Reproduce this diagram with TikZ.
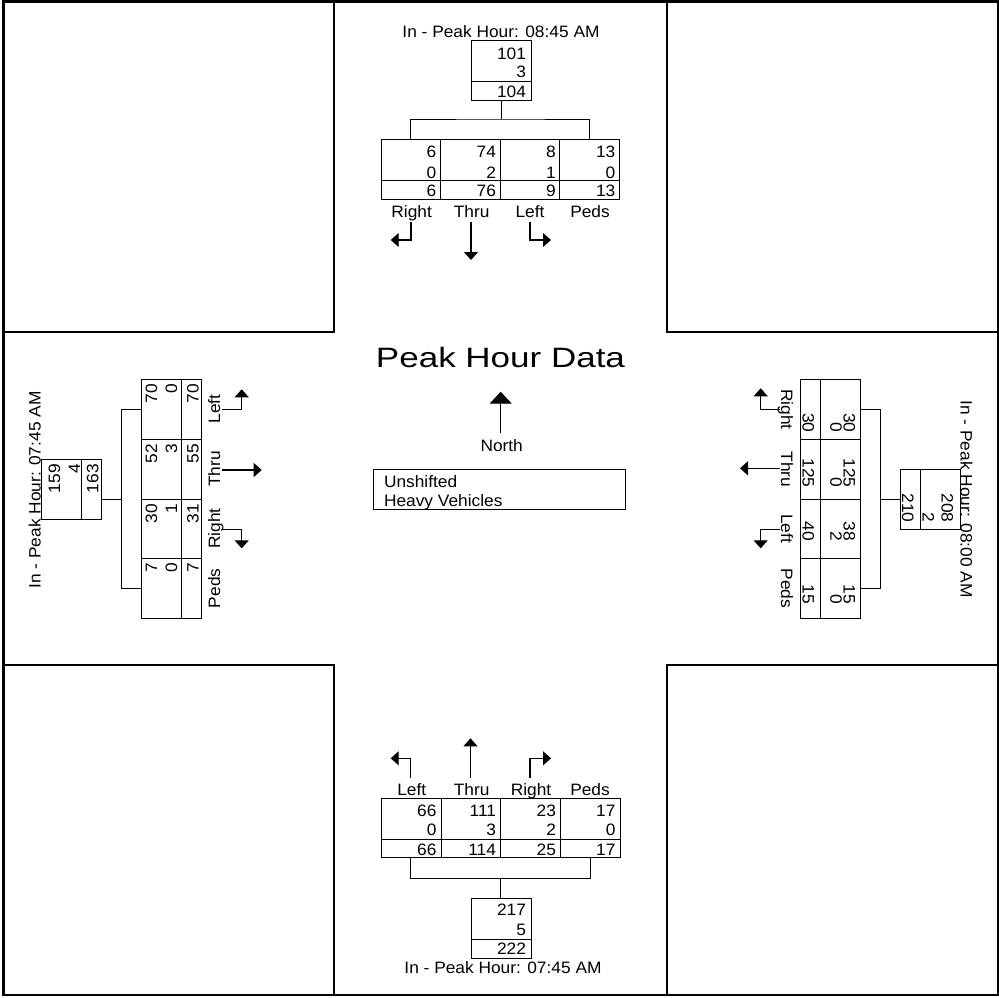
\documentclass[tikz,border=0pt]{standalone}
\usepackage{fontspec}
\setmainfont{Liberation Sans}[FakeStretch=1.05]
\newfontfamily\titlefont{Liberation Sans}[FakeStretch=1.25]
\usetikzlibrary{arrows.meta}
\begin{document}
\begin{tikzpicture}[x=1pt,y=-1pt,
  every node/.style={inner sep=0pt, outer sep=0pt, font=\fontsize{16.5}{19}\selectfont},
  frame/.style={line width=1.8pt},
  grid/.style={line width=1pt},
  cell/.style={draw, line width=1pt, rectangle},
  num/.style={anchor=base east},
  numL/.style={anchor=base east, rotate=90},
  numR/.style={anchor=base east, rotate=-90},
  lab/.style={anchor=base},
  labL/.style={anchor=base, rotate=90},
  labR/.style={anchor=base, rotate=-90},
  arr/.style={line width=1.1pt, -{Triangle[length=8pt,width=14pt]}},
]
\useasboundingbox (0,0) rectangle (999,997);
% frames
\draw[line width=2.6pt] (3.3,1.7) rectangle (998,995);
\draw[frame] (3.3,332.3) -| (334.3,1.7);
\draw[frame] (667,1.7) |- (998,332.3);
\draw[frame] (3.3,665) -| (334.3,995);
\draw[frame] (998,665) -| (667,995);

% ================= TOP =================
\node[lab] (ttitle) at (501,37) {In - Peak Hour: 08:45 AM};
\node[cell, minimum width=60pt, minimum height=59.3pt] (tbox) at (501,70.35) {};
\draw[grid] (471,81) -- (531,81);
\node[num] (tb1) at (526,59) {101};
\node[num] (tb2) at (526,77.7) {3};
\node[num] (tb3) at (526,97) {104};
\node[cell, minimum width=238.3pt, minimum height=60pt] (ttab) at (500.15,169.3) {};
\draw[grid] (381,180.7) -- (619.3,180.7);
\draw[grid] (440.3,139.3) -- (440.3,199.3) (500,139.3) -- (500,199.3) (559.7,139.3) -- (559.7,199.3);
\coordinate (tj) at (501,119);
\coordinate (tc1) at (410.7,139.3);
\coordinate (tc4) at (589,139.3);
\draw[grid] (tbox.south) -- (tj);
\draw[grid] (tc1) |- (tj) -| (tc4);
\foreach \x/\a/\b/\c [count=\i] in {436.3/6/0/6, 496/74/2/76, 555.7/8/1/9, 615.3/13/0/13}{
  \node[num] (tn\i a) at (\x,157.7) {\a};
  \node[num] (tn\i b) at (\x,178.3) {\b};
  \node[num] (tn\i c) at (\x,196.7) {\c};
}
\node[lab] (tlR) at (411.7,217) {Right};
\node[lab] (tlT) at (471.7,217) {Thru};
\node[lab] (tlL) at (530,217) {Left};
\node[lab] (tlP) at (590,217) {Peds};
\draw[arr] (411,221.7) |- (390.7,240);
\draw[arr] (471,221.7) -- (471,260);
\draw[arr] (530,221.7) |- (551,240);

% ================= BOTTOM =================
\draw[arr] (410.7,778.3) |- (390.7,758.3);
\draw[arr] (470.5,778.3) -- (470.5,738.3);
\draw[arr] (530,778.3) |- (551,758.3);
\node[lab] (blL) at (411.7,795.7) {Left};
\node[lab] (blT) at (471.7,795.7) {Thru};
\node[lab] (blR) at (531,795.7) {Right};
\node[lab] (blP) at (590,795.7) {Peds};
\node[cell, minimum width=239pt, minimum height=59.4pt] (btab) at (500.5,828) {};
\draw[grid] (381,839) -- (620,839);
\draw[grid] (441,798.3) -- (441,857.7) (500.7,798.3) -- (500.7,857.7) (560.7,798.3) -- (560.7,857.7);
\foreach \x/\a/\b/\c [count=\i] in {436.5/66/0/66, 496/111/3/114, 556/23/2/25, 615.5/17/0/17}{
  \node[num] (bn\i a) at (\x,816) {\a};
  \node[num] (bn\i b) at (\x,835) {\b};
  \node[num] (bn\i c) at (\x,855) {\c};
}
\node[cell, minimum width=60.7pt, minimum height=60pt] (bbox) at (501.35,928.3) {};
\draw[grid] (471,939) -- (531.7,939);
\coordinate (bj) at (500.7,878.3);
\coordinate (bc1) at (410.7,857.7);
\coordinate (bc4) at (590,857.7);
\draw[grid] (bc1) |- (bj) -| (bc4);
\draw[grid] (bj) -- (bj |- bbox.north);
\node[num] (bb1) at (526,915.7) {217};
\node[num] (bb2) at (526,935) {5};
\node[num] (bb3) at (526,954) {222};
\node[lab] (btitle) at (503,973.3) {In - Peak Hour: 07:45 AM};

% ================= LEFT =================
\node[labL] (ltitle) at (40.7,490) {In - Peak Hour: 07:45 AM};
\node[cell, minimum width=60pt, minimum height=59.7pt] (lbox) at (71.7,489.15) {};
\draw[grid] (81.7,459.3) -- (81.7,519);
\node[numL] (lb1) at (60,464.3) {159};
\node[numL] (lb2) at (80,464.3) {4};
\node[numL] (lb3) at (98.3,464.3) {163};
\node[cell, minimum width=60pt, minimum height=239pt] (ltab) at (171.7,498.8) {};
\draw[grid] (181.7,379.3) -- (181.7,618.3);
\draw[grid] (141.7,439) -- (201.7,439) (141.7,499) -- (201.7,499) (141.7,558.3) -- (201.7,558.3);
\coordinate (lj) at (121.7,499.3);
\coordinate (lc1) at (141.7,409.3);
\coordinate (lc4) at (141.7,588.3);
\draw[grid] (lbox.east |- lj) -- (lj);
\draw[grid] (lc1) -| (lj) |- (lc4);
\foreach \y/\a/\b/\c [count=\i] in {384.3/70/0/70, 444/52/3/55, 504/30/1/31, 563.3/7/0/7}{
  \node[numL] (ln\i a) at (157,\y) {\a};
  \node[numL] (ln\i b) at (177,\y) {\b};
  \node[numL] (ln\i c) at (198.5,\y) {\c};
}
\node[labL] (llL) at (220,409) {Left};
\node[labL] (llT) at (220,469) {Thru};
\node[labL] (llR) at (220,528.7) {Right};
\node[labL] (llP) at (220,588.3) {Peds};
\draw[arr] (221.7,409.3) -| (241.7,389.3);
\draw[arr] (221.7,470) -- (261.7,470);
\draw[arr] (221.7,529.3) -| (241.7,548.3);

% ================= RIGHT =================
\node[cell, minimum width=59.3pt, minimum height=239pt] (rtab) at (830.35,498.8) {};
\draw[grid] (820.7,379.3) -- (820.7,618.3);
\draw[grid] (800.7,439.3) -- (860,439.3) (800.7,499.3) -- (860,499.3) (800.7,558.3) -- (860,558.3);
\foreach \y/\a/\b/\c [count=\i] in {432.5/30/0/30, 487.5/125/0/125, 541/38/2/40, 604/15/0/15}{
  \node[numR] (rn\i a) at (843.5,\y) {\a};
  \node[numR] (rn\i b) at (830.3,\y) {\b};
  \node[numR] (rn\i c) at (802.5,\y) {\c};
}
\coordinate (rj) at (880.7,499.3);
\coordinate (rc1) at (860,409.3);
\coordinate (rc4) at (860,588.3);
\draw[grid] (rc1) -| (rj) |- (rc4);
\node[cell, minimum width=60pt, minimum height=60.3pt] (rbox) at (930.7,499.15) {};
\draw[grid] (920.7,469) -- (920.7,529.3);
\draw[grid] (rbox.west |- rj) -- (rj);
\node[numR] (rb1) at (941.7,522.3) {208};
\node[numR] (rb2) at (922.5,522.3) {2};
\node[numR] (rb3) at (902,522.3) {210};
\node[labR] (rtitle) at (960.7,499) {In - Peak Hour: 08:00 AM};
\node[labR] (rlR) at (781,409.3) {Right};
\node[labR] (rlT) at (781,469.3) {Thru};
\node[labR] (rlL) at (781,528.8) {Left};
\node[labR] (rlP) at (781,588.3) {Peds};
\draw[arr] (780,409.3) -| (760.7,388.3);
\draw[arr] (780,468.3) -- (740,468.3);
\draw[arr] (780,529.3) -| (760.7,548.3);

% ================= CENTER =================
\node[anchor=base, font=\titlefont\fontsize{28}{32}\selectfont] (title) at (500.5,367.3) {Peak Hour Data};
\coordinate (ntail) at (500.7,433.3);
\coordinate (ntip) at (500.7,391.7);
\draw[line width=1.1pt, -{Triangle[length=12pt,width=22pt]}] (ntail) -- (ntip);
\node[lab] (north) at (501.7,451.7) {North};
\node[cell, minimum width=252.4pt, minimum height=40pt] (legend) at (499.5,489.3) {};
\node[anchor=base west] (unsh) at (384,487.3) {Unshifted};
\node[anchor=base west] (heavy) at (384,506) {Heavy Vehicles};
\end{tikzpicture}
\end{document}
